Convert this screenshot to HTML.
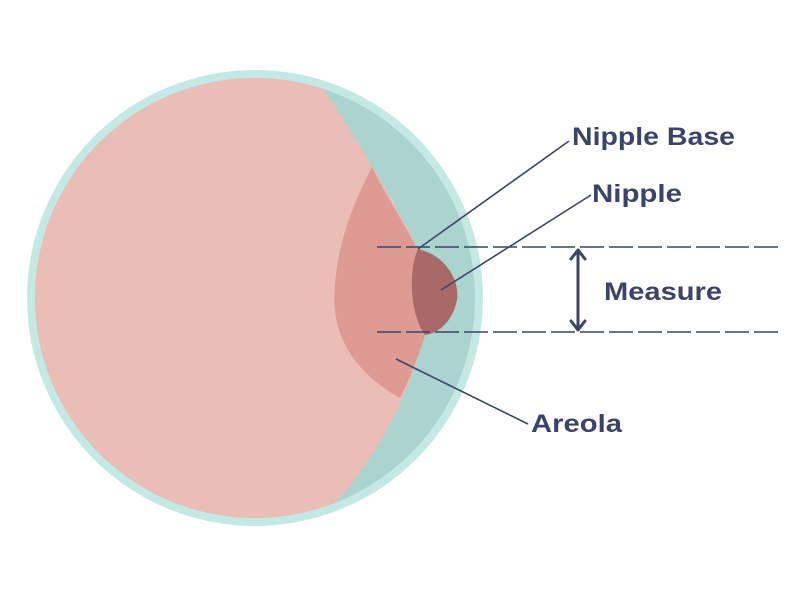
<!DOCTYPE html>
<html><head><meta charset="utf-8"><style>
html,body{margin:0;padding:0;background:#fff}
svg{display:block}
text{font-family:"Liberation Sans",sans-serif;font-weight:bold;font-size:25px;fill:#3b4466}
</style></head><body>
<svg width="800" height="599" viewBox="0 0 800 599">
<defs><clipPath id="c"><circle cx="255" cy="298" r="220"/></clipPath></defs>
<circle cx="255" cy="298" r="228" fill="#c4e8e3"/>
<circle cx="255" cy="298" r="220" fill="#acd4cf"/>
<g clip-path="url(#c)">
<path d="M0,0 L310,70 C340,110 400,210 418,250 C432,290 428,330 408,385 C390,430 365,470 330,510 L0,600 Z" fill="#eabdb7"/>
<path d="M372,167 C380,185 405,225 418,250 C432,290 428,330 422,345 C415,365 408,382 400,398 C350,370 330,330 335,285 C338,240 355,200 372,167 Z" fill="#df9a93"/>
<path d="M418,249 C445,255 460,280 457,300 C453,320 440,333 425,335 C410,315 408,270 418,249 Z" fill="#a96a67"/>
</g>
<g stroke="#3b4466" stroke-width="1.6" fill="none">
<line x1="377" y1="247" x2="778" y2="247" stroke-dasharray="24 5"/>
<line x1="377" y1="332" x2="778" y2="332" stroke-dasharray="24 5"/>
<line x1="418" y1="249" x2="569" y2="141"/>
<line x1="441" y1="290" x2="591" y2="195"/>
<line x1="396" y1="359" x2="528" y2="424"/>
</g>
<g stroke="#3b4466" stroke-width="3" fill="none" stroke-linecap="round" stroke-linejoin="round">
<line x1="578" y1="251" x2="578" y2="329"/>
<polyline points="571,259 578,250 585,259"/>
<polyline points="571,321 578,330 585,321"/>
</g>
<text x="572" y="145" textLength="163" lengthAdjust="spacingAndGlyphs">Nipple Base</text>
<text x="592" y="202" textLength="90" lengthAdjust="spacingAndGlyphs">Nipple</text>
<text x="604" y="300" textLength="118" lengthAdjust="spacingAndGlyphs">Measure</text>
<text x="531" y="432" textLength="91" lengthAdjust="spacingAndGlyphs">Areola</text>
</svg>
</body></html>
